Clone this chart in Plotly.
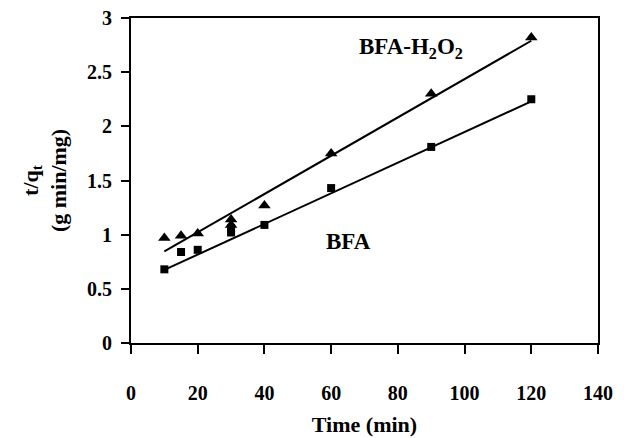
import plotly.graph_objects as go

# Data
time_tri = [10, 15, 20, 30, 30, 40, 60, 90, 120]
bfa_h2o2 = [0.97, 0.99, 1.01, 1.09, 1.14, 1.27, 1.75, 2.30, 2.82]

time_sq = [10, 15, 20, 30, 30, 40, 60, 90, 120]
bfa = [0.68, 0.84, 0.86, 1.02, 1.06, 1.09, 1.43, 1.81, 2.25]

fit_x = [10, 120]
fit_bfa_h2o2 = [0.845, 2.79]
fit_bfa = [0.675, 2.23]

x_ticks = [0, 20, 40, 60, 80, 100, 120, 140]
y_ticks = [0, 0.5, 1, 1.5, 2, 2.5, 3]
y_tick_text = ["0", "0.5", "1", "1.5", "2", "2.5", "3"]

FONT = "Liberation Serif"

fig = go.Figure()
fig.add_trace(go.Scatter(x=fit_x, y=fit_bfa_h2o2, mode="lines",
                         line=dict(color="black", width=2), showlegend=False))
fig.add_trace(go.Scatter(x=fit_x, y=fit_bfa, mode="lines",
                         line=dict(color="black", width=2), showlegend=False))
fig.add_trace(go.Scatter(x=time_tri, y=bfa_h2o2, mode="markers",
                         marker=dict(symbol="triangle-up", size=11, color="black"),
                         showlegend=False))
fig.add_trace(go.Scatter(x=time_sq, y=bfa, mode="markers",
                         marker=dict(symbol="square", size=8, color="black"),
                         showlegend=False))

fig.add_annotation(x=84, y=2.72, text="BFA-H<sub>2</sub>O<sub>2</sub>",
                   showarrow=False,
                   font=dict(family=FONT, size=23, color="black", weight="bold"))
fig.add_annotation(x=65.3, y=0.94, text="BFA",
                   showarrow=False,
                   font=dict(family=FONT, size=23, color="black", weight="bold"))

fig.update_layout(
    width=624, height=438,
    margin=dict(l=131, r=26, t=18, b=95, autoexpand=False),
    paper_bgcolor="white", plot_bgcolor="white",
    font=dict(family=FONT, color="black"),
)
fig.update_xaxes(
    automargin=False,
    range=[0, 140], tickvals=x_ticks, showgrid=False, zeroline=False,
    showline=True, linecolor="black", linewidth=2, mirror=True,
    ticks="outside", ticklen=9, tickwidth=2, tickcolor="black",
    tickfont=dict(family=FONT, size=20, color="black", weight="bold"),
    ticklabelstandoff=22,
    title=dict(text="Time (min)",
               font=dict(family=FONT, size=22, color="black", weight="bold"),
               standoff=14),
)
fig.update_yaxes(
    automargin=False,
    range=[0, 3], tickvals=y_ticks, ticktext=y_tick_text,
    showgrid=False, zeroline=False,
    showline=True, linecolor="black", linewidth=2, mirror=True,
    ticks="outside", ticklen=8, tickwidth=2, tickcolor="black",
    tickfont=dict(family=FONT, size=20, color="black", weight="bold"),
    ticklabelstandoff=5,
    title=dict(text="t/q<sub>t</sub><br>(g min/mg)",
               font=dict(family=FONT, size=22, color="black", weight="bold"),
               standoff=14),
)

fig.write_html("out.html",
               config={"displayModeBar": False},
               post_script="document.body.style.margin='0';document.body.style.padding='0';")
